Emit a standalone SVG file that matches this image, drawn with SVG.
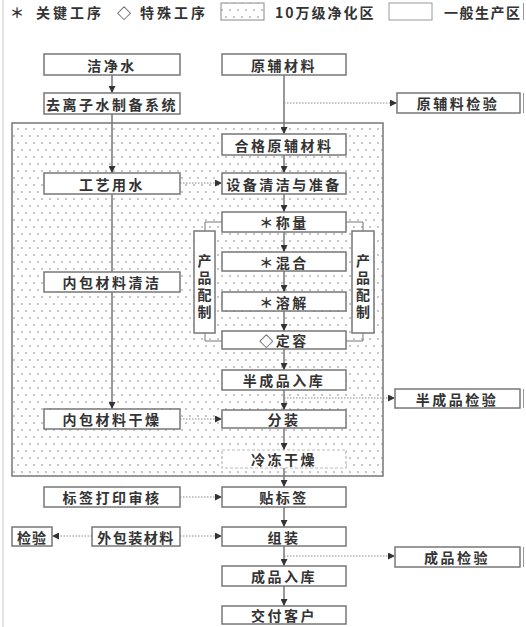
<svg xmlns="http://www.w3.org/2000/svg" width="526" height="627" viewBox="0 0 526 627">
<defs>
<pattern id="dots" width="8" height="14" patternUnits="userSpaceOnUse">
<rect width="8" height="14" fill="#fff"/>
<circle cx="2" cy="3" r="0.8" fill="#808080"/>
<circle cx="6" cy="10" r="0.8" fill="#808080"/>
</pattern>
<marker id="arr" viewBox="0 0 10 10" refX="10" refY="5" markerWidth="7" markerHeight="7" markerUnits="userSpaceOnUse" orient="auto">
<path d="M0,0 L10,5 L0,10 Z" fill="#333"/>
</marker>
</defs>
<style>
.box{fill:#fff;stroke:#777;stroke-width:1.5}
.dash{fill:#fff;stroke:#bbb;stroke-width:1.2;stroke-dasharray:3 2}
.t{font-family:"Noto Sans CJK SC","Noto Sans CJK JP",sans-serif;font-size:14px;font-weight:bold;fill:#333;text-anchor:middle;dominant-baseline:central;letter-spacing:2.5px}
.lg{font-family:"Noto Sans CJK SC","Noto Sans CJK JP",sans-serif;font-size:14px;font-weight:bold;fill:#333;dominant-baseline:central;letter-spacing:3px}
.v{font-family:"Noto Sans CJK SC","Noto Sans CJK JP",sans-serif;font-size:14px;font-weight:bold;fill:#333;text-anchor:middle;writing-mode:vertical-rl;letter-spacing:3px}
.s{fill:none;stroke:#777;stroke-width:1.5}
.sa{fill:none;stroke:#777;stroke-width:1.5;marker-end:url(#arr)}
.d{fill:none;stroke:#888;stroke-width:1;stroke-dasharray:1.5 1.5;marker-end:url(#arr)}
.frame{stroke:#d0d0d0;stroke-width:1.2}
</style>
<rect width="526" height="627" fill="#fff"/>
<line class="frame" x1="3" y1="0" x2="3" y2="627"/>
<g id="legend">
<text class="lg" x="10" y="12">＊</text>
<text class="lg" x="36" y="12">关键工序</text>
<text class="lg" x="117" y="12">◇</text>
<text class="lg" x="140" y="12">特殊工序</text>
<rect x="221" y="3" width="43" height="17" fill="url(#dots)" stroke="#888" stroke-width="1"/>
<text class="lg" x="275" y="12" style="letter-spacing:2px">10万级净化区</text>
<rect x="389" y="3" width="43" height="17" fill="#fff" stroke="#999" stroke-width="1"/>
<text class="lg" x="444" y="12" style="letter-spacing:1.5px">一般生产区</text>
<line x1="523.5" y1="3" x2="523.5" y2="20" stroke="#999" stroke-width="1"/>
</g>
<g id="clean-zone">
<rect x="12" y="123" width="371" height="353" fill="url(#dots)" stroke="#777" stroke-width="1.5"/>
</g>
<g id="connectors">
<path class="sa" d="M112,75 V93"/>
<path class="sa" d="M112,114 V173"/>
<path class="s" d="M112,194 V272"/>
<path class="sa" d="M112,292 V409"/>
<path class="sa" d="M284,75 V134"/>
<path class="d" d="M284,103 H397"/>
<path class="sa" d="M284,155 V173"/>
<path class="d" d="M180,183 H222"/>
<path class="sa" d="M284,194 V212"/>
<path class="sa" d="M284,232 V252"/>
<path class="sa" d="M284,271 V292"/>
<path class="sa" d="M284,311 V331"/>
<path class="sa" d="M284,349 V370"/>
<path class="sa" d="M284,390 V410"/>
<path class="d" d="M284,398 H395"/>
<path class="d" d="M180,419 H222"/>
<path class="sa" d="M284,428 V450"/>
<path class="sa" d="M284,468 V487"/>
<path class="d" d="M180,497 H222"/>
<path class="sa" d="M284,507 V527"/>
<path class="d" d="M180,536 H222"/>
<path class="d" d="M92,536 H52"/>
<path class="sa" d="M284,546 V566"/>
<path class="d" d="M284,556 H395"/>
<path class="sa" d="M284,586 V606"/>
<path class="s" d="M222,222 H205 V231" style="stroke-width:1"/>
<path class="s" d="M205,333 V341 H222" style="stroke-width:1"/>
<path class="s" d="M346,222 H363 V231" style="stroke-width:1"/>
<path class="s" d="M363,333 V341 H346" style="stroke-width:1"/>
</g>
<g id="n-jingshui"><rect class="box" x="44" y="54" width="136" height="21"/><text class="t" x="112" y="64.5">洁净水</text></g>
<g id="n-yuanfu"><rect class="box" x="222" y="54" width="124" height="21"/><text class="t" x="284" y="64.5">原辅材料</text></g>
<g id="n-quli"><rect class="box" x="44" y="93" width="136" height="21"/><text class="t" x="112" y="103.5">去离子水制备系统</text></g>
<g id="n-yuanfujianyan"><rect class="box" x="397" y="93" width="123" height="20"/><text class="t" x="458" y="103">原辅料检验</text><line x1="523.5" y1="93" x2="523.5" y2="113" stroke="#999" stroke-width="1"/></g>
<g id="n-hege"><rect class="box" x="222" y="134" width="124" height="21"/><text class="t" x="284" y="144.5">合格原辅材料</text></g>
<g id="n-gongyi"><rect class="box" x="44" y="173" width="136" height="21"/><text class="t" x="112" y="183.5">工艺用水</text></g>
<g id="n-shebei"><rect class="box" x="222" y="173" width="124" height="21"/><text class="t" x="284" y="183.5">设备清洁与准备</text></g>
<g id="n-chengliang"><rect class="box" x="222" y="212" width="124" height="20"/><text class="t" x="284" y="222">＊称量</text></g>
<g id="n-hunhe"><rect class="box" x="222" y="252" width="124" height="19"/><text class="t" x="284" y="261.5">＊混合</text></g>
<g id="n-rongjie"><rect class="box" x="222" y="292" width="124" height="19"/><text class="t" x="284" y="301.5">＊溶解</text></g>
<g id="n-dingrong"><rect class="box" x="222" y="331" width="124" height="18"/><text class="t" x="284" y="340">◇定容</text></g>
<g id="n-peizhi-l"><rect class="box" x="194" y="231" width="21" height="102"/><text class="v" x="204.5" y="287.5">产品配制</text></g>
<g id="n-peizhi-r"><rect class="box" x="352" y="231" width="22" height="102"/><text class="v" x="363" y="287.5">产品配制</text></g>
<g id="n-neibaoqingjie"><rect class="box" x="44" y="272" width="136" height="20"/><text class="t" x="112" y="282">内包材料清洁</text></g>
<g id="n-banchengpin"><rect class="box" x="222" y="370" width="124" height="20"/><text class="t" x="284" y="380">半成品入库</text></g>
<g id="n-banjianyan"><rect class="box" x="395" y="389" width="125" height="19"/><text class="t" x="457" y="398.5">半成品检验</text><line x1="523.5" y1="389" x2="523.5" y2="408" stroke="#999" stroke-width="1"/></g>
<g id="n-neibaoganzao"><rect class="box" x="44" y="409" width="136" height="20"/><text class="t" x="112" y="419">内包材料干燥</text></g>
<g id="n-fenzhuang"><rect class="box" x="222" y="410" width="124" height="18"/><text class="t" x="284" y="419">分装</text></g>
<g id="n-lengdong"><rect class="dash" x="222" y="450" width="124" height="18"/><text class="t" x="284" y="459">冷冻干燥</text></g>
<g id="n-biaoqian"><rect class="box" x="44" y="487" width="136" height="20"/><text class="t" x="112" y="497">标签打印审核</text></g>
<g id="n-tie"><rect class="box" x="222" y="487" width="124" height="20"/><text class="t" x="284" y="497">贴标签</text></g>
<g id="n-jianyan"><rect class="box" x="12" y="527" width="40" height="19"/><text class="t" x="32" y="536.5" style="letter-spacing:1px">检验</text></g>
<g id="n-waibao"><rect class="box" x="92" y="527" width="88" height="19"/><text class="t" x="136" y="536.5" style="letter-spacing:1.5px">外包装材料</text></g>
<g id="n-zuzhuang"><rect class="box" x="222" y="527" width="124" height="19"/><text class="t" x="284" y="536.5">组装</text></g>
<g id="n-chengjianyan"><rect class="box" x="395" y="547" width="125" height="20"/><text class="t" x="457" y="557">成品检验</text><line x1="523.5" y1="547" x2="523.5" y2="567" stroke="#999" stroke-width="1"/></g>
<g id="n-ruku"><rect class="box" x="222" y="566" width="124" height="20"/><text class="t" x="284" y="576">成品入库</text></g>
<g id="n-jiaofu"><rect class="box" x="222" y="606" width="124" height="18"/><text class="t" x="284" y="615">交付客户</text></g>
</svg>
